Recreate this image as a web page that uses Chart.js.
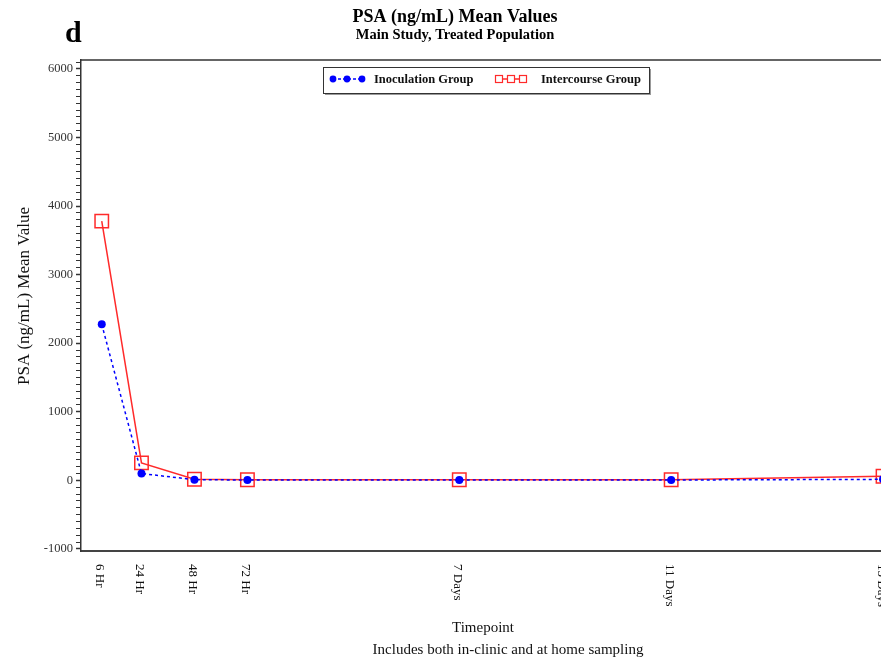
<!DOCTYPE html>
<html>
<head>
<meta charset="utf-8">
<title>PSA (ng/mL) Mean Values</title>
<script src="https://cdn.jsdelivr.net/npm/chart.js@4.4.0/dist/chart.umd.min.js"></script>
<style>
  html, body { margin: 0; padding: 0; overflow: hidden; background: #fff; }
  canvas { display: block; }
</style>
</head>
<body>
<canvas id="psaChart" width="917" height="662"></canvas>
<script>
// timepoints on a linear hours axis, labels as printed
const timepointHours = [6, 24, 48, 72, 168, 264, 360];
const timepointLabels = ['6 Hr', '24 Hr', '48 Hr', '72 Hr', '7 Days', '11 Days', '15 Days'];

// mean PSA (ng/mL) per group
const inoculationMeans = [2275, 100, 10, 5, 5, 5, 15];
const intercourseMeans = [3780, 255, 15, 10, 10, 10, 60];
const seriesNames = ['Inoculation Group', 'Intercourse Group'];

const serif = "'Liberation Serif', 'Times New Roman', serif";
const blue = '#0000ff';
const red = '#ff2a2a';

function toPoints(values) {
    return timepointHours.map((h, i) => ({ x: h, y: values[i] }));
}

// frame, rotated x labels, axis titles, panel letter and legend box
const extrasPlugin = {
    id: 'extras',
    afterDraw(chart) {
        const ctx = chart.ctx;
        const area = chart.chartArea;
        const xScale = chart.scales.x;

        ctx.save();
        // top and right frame lines
        ctx.strokeStyle = '#333';
        ctx.lineWidth = 1.5;
        ctx.beginPath();
        ctx.moveTo(area.left, area.top);
        ctx.lineTo(area.right, area.top);
        ctx.lineTo(area.right, area.bottom);
        ctx.stroke();

        // panel letter
        ctx.fillStyle = '#000';
        ctx.font = 'bold 30px ' + serif;
        ctx.textAlign = 'left';
        ctx.textBaseline = 'alphabetic';
        ctx.fillText('d', 65, 42);

        // x tick labels, rotated clockwise
        ctx.font = '13px ' + serif;
        ctx.fillStyle = '#111';
        timepointHours.forEach((h, i) => {
            const px = xScale.getPixelForValue(h);
            ctx.save();
            ctx.translate(px - 2, area.bottom + 13);
            ctx.rotate(Math.PI / 2);
            ctx.textAlign = 'left';
            ctx.textBaseline = 'middle';
            ctx.fillText(timepointLabels[i], 0, 0);
            ctx.restore();
        });

        // x axis titles
        ctx.font = '15px ' + serif;
        ctx.textAlign = 'center';
        ctx.textBaseline = 'middle';
        ctx.fillText('Timepoint', 483, 628);
        ctx.fillText('Includes both in-clinic and at home sampling', 508, 650);

        // y axis title
        ctx.save();
        ctx.font = '17px ' + serif;
        ctx.translate(25, 296);
        ctx.rotate(-Math.PI / 2);
        ctx.fillText('PSA (ng/mL) Mean Value', 0, 0);
        ctx.restore();

        // legend box
        const bx = 323, by = area.top + 7, bw = 326, bh = 26;
        ctx.fillStyle = '#999';
        ctx.fillRect(bx + 2, by + 2, bw, bh);
        ctx.fillStyle = '#fff';
        ctx.fillRect(bx, by, bw, bh);
        ctx.strokeStyle = '#333';
        ctx.lineWidth = 1;
        ctx.strokeRect(bx + 0.5, by + 0.5, bw, bh);

        const ly = by + 12;
        // inoculation symbol
        ctx.strokeStyle = blue;
        ctx.lineWidth = 1.5;
        ctx.setLineDash([3, 2]);
        ctx.beginPath();
        ctx.moveTo(bx + 10, ly);
        ctx.lineTo(bx + 39, ly);
        ctx.stroke();
        ctx.setLineDash([]);
        ctx.fillStyle = blue;
        [10, 24, 39].forEach(dx => {
            ctx.beginPath();
            ctx.arc(bx + dx, ly, 3.4, 0, Math.PI * 2);
            ctx.fill();
        });
        // intercourse symbol
        ctx.strokeStyle = red;
        ctx.beginPath();
        ctx.moveTo(bx + 176, ly);
        ctx.lineTo(bx + 201, ly);
        ctx.stroke();
        ctx.lineWidth = 1.2;
        [176, 188, 200].forEach(dx => {
            ctx.fillStyle = '#fff';
            ctx.fillRect(bx + dx - 3.5, ly - 3.5, 7, 7);
            ctx.strokeRect(bx + dx - 3.5, ly - 3.5, 7, 7);
        });

        ctx.fillStyle = '#111';
        ctx.font = 'bold 12.5px ' + serif;
        ctx.textAlign = 'left';
        ctx.textBaseline = 'middle';
        ctx.fillText(seriesNames[0], bx + 51, ly + 1);
        ctx.fillText(seriesNames[1], bx + 218, ly + 1);
        ctx.restore();
    }
};

function init() {
    const pctx = document.getElementById('psaChart').getContext('2d');
    const psaChart = new Chart(pctx, {
        type: 'line',
        data: {
            datasets: [{
                label: seriesNames[0],
                data: toPoints(inoculationMeans),
                borderColor: blue,
                backgroundColor: blue,
                borderWidth: 1.5,
                borderDash: [3, 3],
                pointStyle: 'circle',
                pointRadius: 4,
                pointBorderWidth: 0,
                pointBackgroundColor: blue,
                tension: 0
            }, {
                label: seriesNames[1],
                data: toPoints(intercourseMeans),
                borderColor: red,
                borderWidth: 1.5,
                pointStyle: 'rect',
                pointRadius: 9.5,
                pointBorderWidth: 1.5,
                pointBorderColor: red,
                pointBackgroundColor: 'rgba(0,0,0,0)',
                tension: 0
            }]
        },
        options: {
            responsive: false,
            animation: false,
            layout: {
                padding: { left: 0, right: 7, top: 0, bottom: 111 }
            },
            plugins: {
                legend: { display: false },
                tooltip: { enabled: false },
                title: {
                    display: true,
                    text: 'PSA (ng/mL) Mean Values',
                    color: '#000',
                    font: { family: serif, size: 18, weight: 'bold' },
                    padding: { top: 7, bottom: -2 }
                },
                subtitle: {
                    display: true,
                    text: 'Main Study, Treated Population',
                    color: '#000',
                    font: { family: serif, size: 14.5, weight: 'bold' },
                    padding: { top: 0, bottom: 16 }
                }
            },
            scales: {
                x: {
                    type: 'linear',
                    min: -3.4,
                    max: 370.4,
                    afterBuildTicks: (scale) => {
                        scale.ticks = timepointHours.map(v => ({ value: v }));
                    },
                    afterFit: (scale) => { scale.height = 0; },
                    ticks: { display: false },
                    grid: { display: false },
                    border: { display: true, color: '#444', width: 2 }
                },
                y: {
                    min: -1030,
                    max: 6130,
                    afterFit: (scale) => { scale.width = 81; },
                    ticks: {
                        stepSize: 100,
                        includeBounds: false,
                        autoSkip: false,
                        padding: 3,
                        color: '#333',
                        font: { family: serif, size: 12.5 },
                        callback: (value) => value % 1000 === 0 ? String(value) : ''
                    },
                    grid: {
                        drawOnChartArea: false,
                        drawTicks: true,
                        tickLength: 5,
                        tickColor: '#333',
                        tickWidth: (c) => (c.tick && c.tick.value % 1000 === 0) ? 1.5 : 1
                    },
                    border: { display: true, color: '#333', width: 1.5 }
                }
            }
        },
        plugins: [extrasPlugin]
    });
}

document.addEventListener('DOMContentLoaded', function () {
    init();
});
</script>
</body>
</html>
